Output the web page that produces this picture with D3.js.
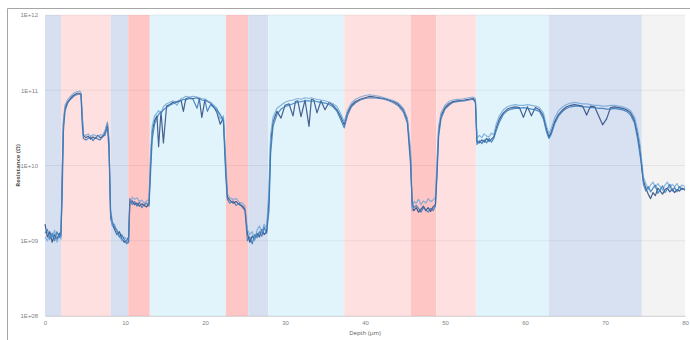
<!DOCTYPE html>
<html>
<head>
<meta charset="utf-8">
<script src="https://cdn.jsdelivr.net/npm/d3@7"></script>
<style>
  html, body { margin: 0; padding: 0; background: #fff; }
  svg { display: block; font-family: "Open Sans", "Liberation Sans", sans-serif; }
  .tick text { fill: #7f7f7f; font-size: 6px; }
</style>
</head>
<body>
<div id="chart"></div>
<script>
// layer boundaries (µm) and their shading
const bandEdges = [0, 2.0, 8.2, 10.4, 13.1, 22.6, 25.4, 27.9, 37.4, 45.75, 48.9, 53.9, 63.0, 74.6, 80];
const bandColors = ["#d6e0f1", "#ffe0e1", "#d6e0f1", "#ffc6c6", "#e2f4fb", "#ffc6c6", "#d6e0f1",
                    "#e2f4fb", "#ffe0e1", "#ffc6c6", "#ffe0e1", "#e2f4fb", "#d8e1f2", "#f3f3f3"];

const xTicks = [0, 10, 20, 30, 40, 50, 60, 70, 80];
const yTicks = [1e8, 1e9, 1e10, 1e11, 1e12];

// depth (µm)
const depth = [
  0, 0.3, 0.6, 0.9, 1.2, 1.5, 1.8, 2.0,
  2.15, 2.3, 2.5, 2.8, 3.1, 3.4, 3.7, 4.0, 4.3, 4.5,
  4.65, 4.8, 5.1, 5.4, 5.7, 6.0, 6.3, 6.6, 6.9, 7.2, 7.5, 7.8, 8.0,
  8.2, 8.4, 8.7, 9.0, 9.3, 9.6, 9.9, 10.2, 10.45,
  10.6, 10.9, 11.2, 11.5, 11.8, 12.1, 12.4, 12.7, 13.0,
  13.2, 13.4, 13.7, 14.0, 14.2, 14.5, 14.8, 15.2, 15.6, 16.0, 16.5, 17.0, 17.3, 17.6, 18.0, 18.5, 19.0, 19.3, 19.6, 20.0, 20.3, 20.7, 21.1, 21.5, 21.9, 22.3,
  22.6, 22.8, 23.1, 23.5, 23.9, 24.3, 24.7, 25.0,
  25.3, 25.6, 25.9, 26.2, 26.5, 26.8, 27.1, 27.4, 27.7,
  28.0, 28.2, 28.5, 29.0, 29.5, 30.0, 30.5, 31.0, 31.3, 31.6, 32.0, 32.5, 33.0, 33.3, 33.6, 34.0, 34.5, 35.0, 35.5, 36.0, 36.5, 37.0,
  37.4, 37.8, 38.3, 38.8, 39.4, 40.0, 40.6, 41.2, 41.8, 42.4, 43.0, 43.6, 44.2, 44.8, 45.3, 45.7,
  45.9, 46.1, 46.4, 46.7, 47.0, 47.3, 47.6, 47.9, 48.2, 48.5, 48.8,
  49.0, 49.2, 49.5, 50.0, 50.5, 51.0, 51.5, 52.0, 52.5, 53.0, 53.5, 53.8,
  54.0, 54.3, 54.6, 54.9, 55.2, 55.5, 55.8, 56.1, 56.4,
  56.8, 57.3, 57.8, 58.3, 58.8, 59.3, 59.8, 60.3, 60.8, 61.3, 61.8, 62.3, 62.7,
  63.0, 63.3, 63.7, 64.2, 64.7, 65.2, 65.7, 66.2, 66.7, 67.2, 67.7, 68.2, 68.7, 69.2, 69.7, 70.2, 70.7, 71.2, 71.7, 72.2, 72.7, 73.2, 73.7, 74.1, 74.4,
  74.6, 74.8, 75.1, 75.4, 75.7, 76.0, 76.3, 76.6, 76.9, 77.2, 77.5, 77.8, 78.1, 78.4, 78.7, 79.0, 79.3, 79.6, 80.0
];

// log10 of resistance (Ω), one array per scan
const scanA = [
  9.22, 9.05, 9.12, 8.98, 9.08, 9.02, 9.10, 9.06,
  9.9, 10.55, 10.76, 10.84, 10.88, 10.92, 10.94, 10.96, 10.96, 10.95,
  10.65, 10.40, 10.37, 10.39, 10.35, 10.38, 10.36, 10.40, 10.37, 10.38, 10.44, 10.56, 10.30,
  9.30, 9.22, 9.15, 9.08, 9.12, 9.03, 8.98, 9.00, 9.05,
  9.50, 9.53, 9.48, 9.50, 9.46, 9.49, 9.47, 9.45, 9.50,
  10.05, 10.45, 10.60, 10.66, 10.25, 10.72, 10.30, 10.79, 10.81, 10.84, 10.85, 10.87, 10.72, 10.89, 10.90, 10.89, 10.90, 10.88, 10.64, 10.88, 10.85, 10.83, 10.78, 10.70, 10.55, 10.63,
  9.95, 9.58, 9.54, 9.50, 9.52, 9.48, 9.46, 9.42,
  9.10, 8.98, 9.06, 9.02, 9.10, 9.05, 9.15, 9.08, 9.12,
  9.55, 10.30, 10.58, 10.72, 10.63, 10.80, 10.82, 10.66, 10.85, 10.86, 10.65, 10.87, 10.52, 10.88, 10.87, 10.70, 10.86, 10.74, 10.84, 10.80, 10.74, 10.64,
  10.54, 10.70, 10.80, 10.85, 10.88, 10.90, 10.92, 10.91, 10.90, 10.89, 10.87, 10.85, 10.81, 10.74, 10.60, 10.10,
  9.45, 9.40, 9.44, 9.38, 9.42, 9.46, 9.40, 9.44, 9.39, 9.45, 9.48,
  9.95, 10.45, 10.66, 10.77, 10.82, 10.85, 10.86, 10.86, 10.87, 10.88, 10.89, 10.86,
  10.32, 10.30, 10.34, 10.31, 10.36, 10.32, 10.35, 10.38, 10.50,
  10.62, 10.70, 10.75, 10.77, 10.78, 10.77, 10.64, 10.78, 10.66, 10.77, 10.74, 10.66, 10.48,
  10.38, 10.45, 10.58, 10.68, 10.74, 10.78, 10.80, 10.81, 10.80, 10.79, 10.67, 10.79, 10.78, 10.66, 10.54, 10.62, 10.77, 10.78, 10.77, 10.76, 10.74, 10.70, 10.60, 10.40, 10.20,
  9.95, 9.80, 9.70, 9.62, 9.56, 9.64, 9.60, 9.70, 9.66, 9.62, 9.68, 9.70, 9.65, 9.69, 9.64, 9.68, 9.66, 9.70, 9.67
];

const scanB = [
  9.10, 9.15, 9.02, 9.10, 9.00, 9.12, 9.04, 9.12,
  9.6, 10.45, 10.72, 10.82, 10.87, 10.90, 10.93, 10.94, 10.95, 10.94,
  10.55, 10.36, 10.34, 10.36, 10.38, 10.33, 10.37, 10.35, 10.34, 10.39, 10.40, 10.52, 10.20,
  9.40, 9.26, 9.18, 9.14, 9.05, 9.08, 9.02, 8.96, 8.99,
  9.56, 9.48, 9.52, 9.46, 9.51, 9.44, 9.48, 9.50, 9.46,
  9.90, 10.35, 10.55, 10.63, 10.68, 10.70, 10.74, 10.77, 10.80, 10.82, 10.84, 10.86, 10.88, 10.87, 10.89, 10.88, 10.76, 10.89, 10.87, 10.86, 10.72, 10.81, 10.77, 10.74, 10.68, 10.58,
  9.85, 9.55, 9.50, 9.53, 9.47, 9.50, 9.44, 9.40,
  9.00, 9.05, 8.96, 9.08, 9.04, 9.12, 9.06, 9.18, 9.10,
  9.40, 10.15, 10.52, 10.68, 10.75, 10.78, 10.80, 10.82, 10.83, 10.84, 10.85, 10.86, 10.86, 10.85, 10.86, 10.85, 10.84, 10.83, 10.81, 10.78, 10.72, 10.60,
  10.50, 10.66, 10.78, 10.83, 10.87, 10.89, 10.90, 10.90, 10.89, 10.88, 10.86, 10.83, 10.79, 10.71, 10.56, 10.00,
  9.50, 9.44, 9.47, 9.43, 9.38, 9.44, 9.41, 9.38, 9.43, 9.40, 9.46,
  9.85, 10.38, 10.62, 10.75, 10.80, 10.84, 10.85, 10.86, 10.86, 10.87, 10.88, 10.84,
  10.28, 10.33, 10.29, 10.34, 10.30, 10.36, 10.31, 10.36, 10.46,
  10.58, 10.68, 10.73, 10.75, 10.76, 10.76, 10.77, 10.76, 10.75, 10.74, 10.72, 10.62, 10.44,
  10.36, 10.42, 10.55, 10.66, 10.72, 10.76, 10.78, 10.79, 10.79, 10.78, 10.78, 10.77, 10.77, 10.76, 10.76, 10.75, 10.75, 10.76, 10.75, 10.74, 10.72, 10.67, 10.56, 10.34, 10.12,
  10.0, 9.75, 9.66, 9.72, 9.65, 9.70, 9.74, 9.63, 9.68, 9.73, 9.64, 9.69, 9.75, 9.66, 9.71, 9.65, 9.72, 9.68, 9.70
];

const scanC = [
  9.05, 9.00, 9.08, 9.04, 9.14, 8.98, 9.08, 9.02,
  9.8, 10.60, 10.80, 10.87, 10.91, 10.94, 10.97, 10.98, 10.99, 10.97,
  10.70, 10.42, 10.40, 10.42, 10.39, 10.41, 10.40, 10.38, 10.41, 10.40, 10.46, 10.58, 10.35,
  9.35, 9.20, 9.22, 9.10, 9.06, 9.00, 9.05, 9.02, 8.97,
  9.45, 9.58, 9.55, 9.57, 9.52, 9.54, 9.50, 9.53, 9.55,
  10.15, 10.52, 10.66, 10.70, 10.73, 10.68, 10.78, 10.82, 10.84, 10.86, 10.80, 10.89, 10.90, 10.92, 10.91, 10.92, 10.91, 10.90, 10.89, 10.88, 10.86, 10.84, 10.80, 10.76, 10.62, 10.66,
  10.05, 9.62, 9.57, 9.55, 9.56, 9.51, 9.50, 9.46,
  9.15, 9.08, 9.12, 9.00, 9.14, 9.20, 9.10, 9.22, 9.16,
  9.70, 10.40, 10.64, 10.76, 10.80, 10.84, 10.86, 10.87, 10.88, 10.89, 10.88, 10.90, 10.89, 10.90, 10.89, 10.88, 10.87, 10.86, 10.84, 10.82, 10.78, 10.68,
  10.58, 10.73, 10.83, 10.88, 10.91, 10.93, 10.94, 10.93, 10.92, 10.90, 10.88, 10.86, 10.83, 10.76, 10.63, 10.20,
  9.40, 9.52, 9.50, 9.55, 9.48, 9.53, 9.50, 9.56, 9.52, 9.54, 9.58,
  10.05, 10.52, 10.70, 10.80, 10.85, 10.87, 10.88, 10.88, 10.89, 10.90, 10.91, 10.89,
  10.36, 10.40, 10.37, 10.42, 10.39, 10.38, 10.43, 10.41, 10.55,
  10.66, 10.74, 10.78, 10.80, 10.81, 10.80, 10.80, 10.81, 10.80, 10.79, 10.77, 10.70, 10.52,
  10.42, 10.50, 10.63, 10.73, 10.78, 10.81, 10.83, 10.84, 10.83, 10.82, 10.82, 10.81, 10.80, 10.80, 10.79, 10.79, 10.80, 10.80, 10.79, 10.78, 10.76, 10.73, 10.64, 10.46, 10.26,
  10.05, 9.85, 9.76, 9.68, 9.74, 9.78, 9.70, 9.76, 9.72, 9.67, 9.74, 9.78, 9.70, 9.75, 9.72, 9.76, 9.70, 9.74, 9.72
];

const scans = [
  { name: "A", values: scanA, color: "#27477e", opacity: 0.85 },
  { name: "C", values: scanC, color: "#6ea4d6", opacity: 0.8 },
  { name: "B", values: scanB, color: "#3277b8", opacity: 0.85 }
];

const W = 690, H = 340;
const plot = { left: 45, right: 685, top: 15, bottom: 316 };

const svg = d3.select("#chart").append("svg")
  .attr("width", W)
  .attr("height", H);

// outer chart frame (cut off at right/bottom like the screenshot)
svg.append("path")
  .attr("d", `M7.5,${H} V8.5 H${W}`)
  .attr("fill", "none")
  .attr("stroke", "#a6a6a6")
  .attr("stroke-width", 1);

const x = d3.scaleLinear().domain([0, 80]).range([plot.left, plot.right]);
const y = d3.scaleLog().domain([1e8, 1e12]).range([plot.bottom, plot.top]);

// background bands
svg.append("g").selectAll("rect")
  .data(bandColors)
  .join("rect")
  .attr("x", (d, i) => x(bandEdges[i]))
  .attr("width", (d, i) => x(bandEdges[i + 1]) - x(bandEdges[i]))
  .attr("y", plot.top)
  .attr("height", plot.bottom - plot.top)
  .attr("fill", d => d);

// horizontal gridlines
svg.append("g").selectAll("line")
  .data(yTicks)
  .join("line")
  .attr("x1", plot.left)
  .attr("x2", plot.right)
  .attr("y1", d => y(d))
  .attr("y2", d => y(d))
  .attr("stroke", "#000")
  .attr("stroke-opacity", 0.06);

// axes
const yAxis = svg.append("g")
  .attr("transform", `translate(${plot.left},0)`)
  .call(d3.axisLeft(y).tickValues(yTicks).tickSize(0).tickPadding(7)
    .tickFormat(d => "1E+" + String(Math.round(Math.log10(d))).padStart(2, "0")));
yAxis.select(".domain").remove();

const xAxis = svg.append("g")
  .attr("transform", `translate(0,${plot.bottom})`)
  .call(d3.axisBottom(x).tickValues(xTicks).tickSize(0).tickPadding(5));
xAxis.select(".domain").attr("stroke", "#d9d9d9");

// resistance profiles
const line = d3.line()
  .x(d => x(d[0]))
  .y(d => y(Math.pow(10, d[1])));

svg.append("g").selectAll("path")
  .data(scans)
  .join("path")
  .attr("d", s => line(depth.map((d, i) => [d, s.values[i]]).filter(p => p[1] != null)))
  .attr("fill", "none")
  .attr("stroke", s => s.color)
  .attr("stroke-opacity", s => s.opacity)
  .attr("stroke-width", 1.2)
  .attr("stroke-linejoin", "round");

// axis titles
svg.append("text")
  .attr("transform", `translate(20,${(plot.top + plot.bottom) / 2}) rotate(-90)`)
  .attr("text-anchor", "middle")
  .attr("font-size", 6)
  .attr("font-weight", "bold")
  .attr("fill", "#595959")
  .text("Resistance (Ω)");

svg.append("text")
  .attr("x", (plot.left + plot.right) / 2)
  .attr("y", 335)
  .attr("text-anchor", "middle")
  .attr("font-size", 6)
  .attr("fill", "#595959")
  .text("Depth (µm)");
</script>
</body>
</html>
